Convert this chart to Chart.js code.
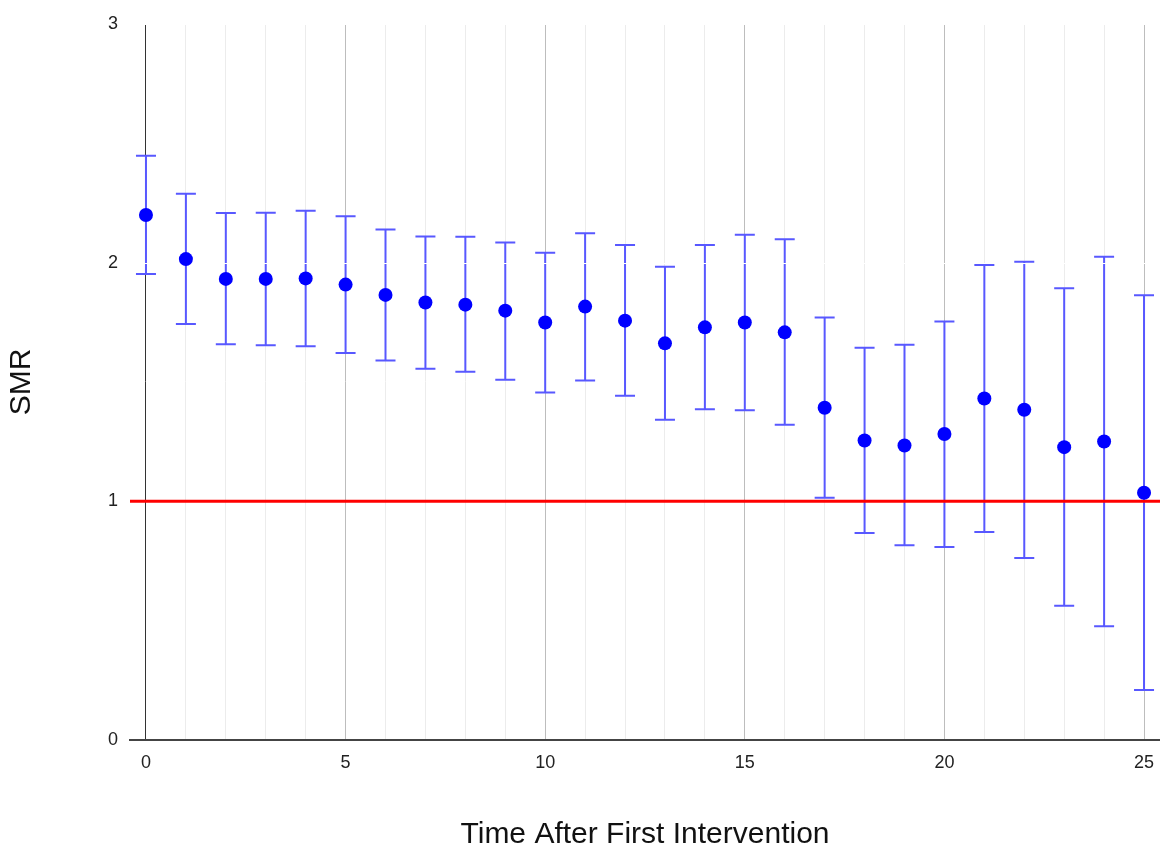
<!DOCTYPE html>
<html>
<head>
<meta charset="utf-8">
<script src="https://cdn.jsdelivr.net/npm/chart.js@4.4.1/dist/chart.umd.min.js"></script>
<style>
  html, body { margin: 0; padding: 0; background: #fff; }
  #wrap { width: 1160px; height: 853px; position: relative; }
</style>
</head>
<body>
<div id="wrap"><canvas id="smrChart"></canvas></div>
<script>
// time after first intervention (x) and SMR estimates with CI bounds
const times = [0, 1, 2, 3, 4, 5, 6, 7, 8, 9, 10, 11, 12, 13, 14, 15, 16, 17, 18, 19, 20, 21, 22, 23, 24, 25];
const smr   = [2.20, 2.015, 1.932, 1.932, 1.934, 1.908, 1.865, 1.833, 1.824, 1.799, 1.749, 1.816, 1.757,
               1.662, 1.729, 1.749, 1.708, 1.392, 1.255, 1.234, 1.282, 1.431, 1.384, 1.227, 1.251, 1.036];
const lower = [1.953, 1.743, 1.658, 1.654, 1.650, 1.621, 1.590, 1.555, 1.543, 1.509, 1.456, 1.506, 1.442,
               1.342, 1.386, 1.382, 1.321, 1.015, 0.867, 0.816, 0.809, 0.872, 0.763, 0.562, 0.477, 0.209];
const upper = [2.448, 2.289, 2.208, 2.209, 2.218, 2.194, 2.139, 2.110, 2.109, 2.085, 2.042, 2.123, 2.074,
               1.983, 2.074, 2.117, 2.098, 1.770, 1.644, 1.656, 1.754, 1.990, 2.004, 1.893, 2.025, 1.863];

const xGridTicks  = [0, 1, 2, 3, 4, 5, 6, 7, 8, 9, 10, 11, 12, 13, 14, 15, 16, 17, 18, 19, 20, 21, 22, 23, 24, 25];
const xLabelTicks = [0, 5, 10, 15, 20, 25];
const yTicks      = [0, 1, 2, 3];
const refValue    = 1;

const X_MIN = -0.4, X_MAX = 25.4;
const Y_MIN = 0, Y_MAX = 3;

const BAR_COLOR = '#5858ff';
const DOT_COLOR = '#0000ff';
const REF_COLOR = '#ff0000';
const FONT = 'Liberation Sans, Arial, sans-serif';

// error bars, then white horizontal grid over them (as in the original)
const errorBars = {
  id: 'errorBars',
  beforeDatasetsDraw(chart) {
    const { ctx, scales: { x, y }, chartArea } = chart;
    ctx.save();
    ctx.strokeStyle = BAR_COLOR;
    ctx.lineWidth = 2;
    times.forEach((t, i) => {
      const px = x.getPixelForValue(t);
      const pLo = y.getPixelForValue(lower[i]);
      const pHi = y.getPixelForValue(upper[i]);
      ctx.beginPath();
      ctx.moveTo(px, pLo); ctx.lineTo(px, pHi);
      ctx.moveTo(px - 10, pLo); ctx.lineTo(px + 10, pLo);
      ctx.moveTo(px - 10, pHi); ctx.lineTo(px + 10, pHi);
      ctx.stroke();
    });
    ctx.strokeStyle = '#ffffff';
    ctx.lineWidth = 1;
    yTicks.filter(v => v > 0).forEach(v => {
      const py = Math.round(y.getPixelForValue(v)) + 0.5;
      ctx.beginPath();
      ctx.moveTo(chartArea.left, py); ctx.lineTo(chartArea.right, py);
      ctx.stroke();
    });
    ctx.restore();
  }
};

function xGridColor(ctx) {
  const v = ctx.tick ? ctx.tick.value : null;
  if (v === 0) return '#333333';
  if (v % 5 === 0) return '#bdbdbd';
  return '#ececec';
}

new Chart(document.getElementById('smrChart'), {
  type: 'scatter',
  data: {
    datasets: [
      {
        label: 'SMR',
        data: times.map((t, i) => ({ x: t, y: smr[i] })),
        backgroundColor: DOT_COLOR,
        borderWidth: 0,
        pointRadius: 7,
        pointHoverRadius: 7,
      },
      {
        type: 'line',
        label: 'ref',
        data: [{ x: X_MIN, y: refValue }, { x: X_MAX, y: refValue }],
        borderColor: REF_COLOR,
        borderWidth: 3,
        pointRadius: 0,
        fill: false,
      }
    ]
  },
  options: {
    responsive: true,
    maintainAspectRatio: false,
    animation: false,
    layout: { autoPadding: false, padding: { top: 24, right: 0, left: 0, bottom: 0 } },
    plugins: { legend: { display: false }, tooltip: { enabled: false } },
    scales: {
      x: {
        type: 'linear',
        min: X_MIN,
        max: X_MAX,
        afterBuildTicks: s => { s.ticks = xGridTicks.map(v => ({ value: v })); },
        afterFit: s => { s.height = 113; s.paddingLeft = 0; s.paddingRight = 0; },
        grid: { color: xGridColor, lineWidth: 1, drawTicks: false },
        border: { color: '#444444', width: 2 },
        ticks: {
          padding: 12,
          autoSkip: false,
          maxRotation: 0,
          color: '#222',
          font: { family: FONT, size: 18 },
          callback: v => xLabelTicks.includes(v) ? String(v) : ''
        },
        title: {
          display: true,
          text: 'Time After First Intervention',
          color: '#111',
          font: { family: FONT, size: 30 },
          padding: { top: 0, bottom: 0 }
        }
      },
      y: {
        min: Y_MIN,
        max: Y_MAX,
        afterBuildTicks: s => { s.ticks = yTicks.map(v => ({ value: v })); },
        afterFit: s => { s.width = 130; },
        grid: { display: false, drawTicks: false },
        border: { display: false },
        ticks: {
          padding: 12,
          color: '#222',
          font: { family: FONT, size: 18 }
        },
        title: {
          display: true,
          text: 'SMR',
          color: '#111',
          font: { family: FONT, size: 30 },
          padding: { top: 4, bottom: 0 }
        }
      }
    }
  },
  plugins: [errorBars]
});
</script>
</body>
</html>
